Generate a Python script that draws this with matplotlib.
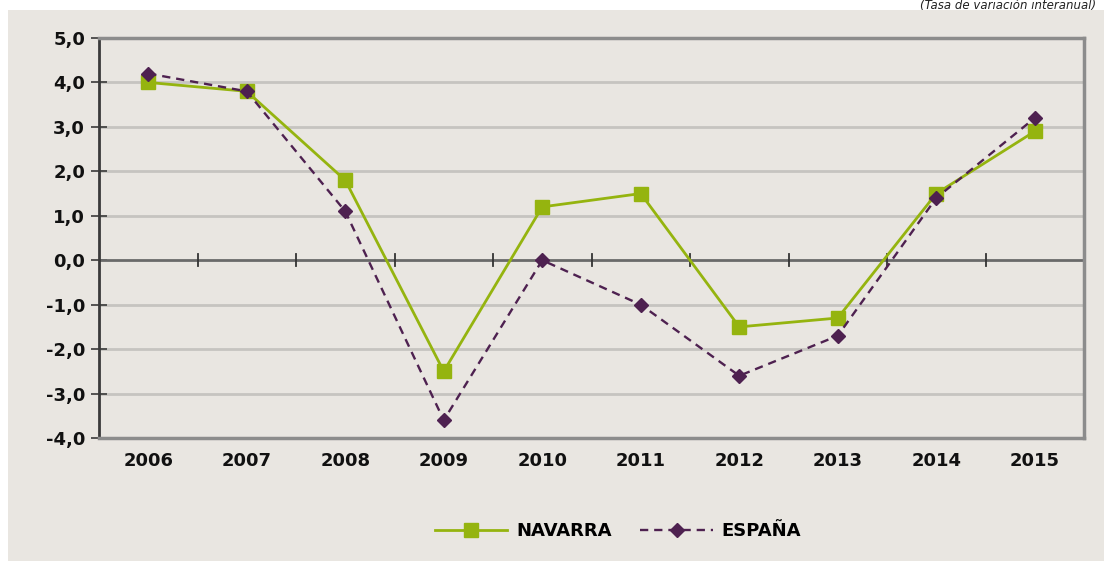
import matplotlib
matplotlib.use("Agg")
import matplotlib.pyplot as plt
from matplotlib.patches import Rectangle

years = ["2006", "2007", "2008", "2009", "2010", "2011", "2012", "2013", "2014", "2015"]
navarra = [4.0, 3.8, 1.8, -2.5, 1.2, 1.5, -1.5, -1.3, 1.5, 2.9]
espana = [4.2, 3.8, 1.1, -3.6, 0.0, -1.0, -2.6, -1.7, 1.4, 3.2]
yticks = [5.0, 4.0, 3.0, 2.0, 1.0, 0.0, -1.0, -2.0, -3.0, -4.0]
subtitle = "(Tasa de variación interanual)"

BG = "#E9E6E1"
GREEN = "#95B40F"
PURPLE = "#4E2150"

W, H = 1104, 561
fig = plt.figure(figsize=(W / 100, H / 100), dpi=100)
fig.patch.set_facecolor("white")
fig.patches.append(Rectangle((8 / W, 0), 1 - 8 / W, 1 - 10 / H, transform=fig.transFigure,
                             facecolor=BG, edgecolor="none", zorder=-10))

ax = fig.add_axes([99 / W, 1 - 438 / H, (1084 - 99) / W, (438 - 38) / H])
ax.set_facecolor(BG)

x = list(range(len(years)))
ax.set_xlim(-0.5, len(years) - 0.5)
ax.set_ylim(-4.0, 5.0)

for v in yticks:
    if v not in (0.0, 5.0, -4.0):
        ax.axhline(v, color="#C6C4C0", lw=2.0, zorder=1)
ax.axhline(0.0, color="#6A6A6A", lw=2.0, zorder=2)

for s in ["top", "bottom", "right"]:
    ax.spines[s].set_color("#8C8C8C")
    ax.spines[s].set_linewidth(2.5)
ax.spines["left"].set_color("#3A3A3A")
ax.spines["left"].set_linewidth(2.0)

ax.plot(x, navarra, color=GREEN, lw=2.0, marker="s", ms=10, mfc=GREEN, mec=GREEN,
        label="NAVARRA", zorder=3)
ax.plot(x, espana, color=PURPLE, lw=1.7, ls=(0, (3.5, 2.5)), marker="D", ms=7,
        mfc=PURPLE, mec=PURPLE, label="ESPAÑA", zorder=4)

ax.set_yticks(yticks)
ax.set_yticklabels([f"{v:.1f}".replace(".", ",") for v in yticks],
                   fontsize=13, fontweight="bold", color="#111111")
ax.tick_params(axis="y", direction="inout", length=12, width=1.2, color="#3A3A3A", pad=4)

ax.set_xticks(x)
ax.set_xticklabels(years, fontsize=13, fontweight="bold", color="#111111")
ax.tick_params(axis="x", length=0, pad=10)

# category boundary ticks on the zero line
for b in range(1, len(years) + 1):
    ax.plot([b - 0.5, b - 0.5], [-0.13, 0.13], color="#333333", lw=1.3, zorder=2, clip_on=False)

leg = fig.legend(loc="center", bbox_to_anchor=(618 / W, 1 - 531 / H), ncol=2, frameon=False,
                 prop={"size": 13, "weight": "bold"}, handlelength=4.0, columnspacing=1.6,
                 handletextpad=0.5)

fig.text(1096 / W, 1 - 5 / H, subtitle, ha="right", va="center", fontsize=8.5,
         style="italic", color="#222222")

fig.savefig("out.png", dpi=100, facecolor=fig.get_facecolor())
